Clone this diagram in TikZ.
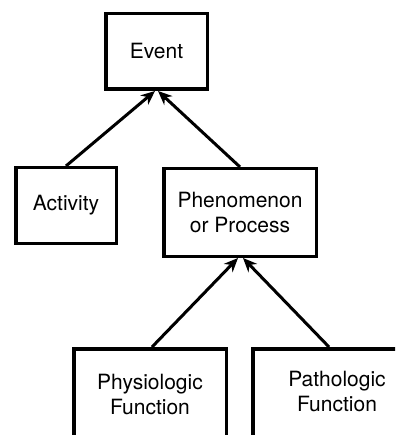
\documentclass[tikz,border=0pt]{standalone}
\usepackage{fontspec}
\setmainfont{TeX Gyre Heros}
\usetikzlibrary{arrows.meta}
\begin{document}
\begin{tikzpicture}[x=1pt,y=-1pt,
  box/.style={draw,line width=3.5pt,inner sep=0pt,align=center,
    font=\fontsize{21}{25}\selectfont},
  lbl/.style={inner sep=0pt,align=center,font=\fontsize{21}{25}\selectfont},
  isa/.style={line width=3pt,-{Stealth[length=14pt,width=12pt,inset=4.5pt]}}]
  \useasboundingbox (0,0) rectangle (395,435);
  \clip (0,0) rectangle (395,435);
  % upper level
  \node[box,minimum width=101.5pt,minimum height=75.5pt] (ev) at (156.5,51.5) {Event};
  \node[box,minimum width=100.5pt,minimum height=75.5pt] (act) at (66,205.5) {Activity};
  \node[box,minimum width=152.5pt,minimum height=87.5pt] (phen) at (240,212.5) {Phenomenon\\or Process};
  % lower level, boxes running past the bottom edge
  \node[box,minimum width=152.5pt,minimum height=110pt,anchor=north] (phys) at (150,347) {};
  \node[lbl] (physl) at (150,394) {Physiologic\\Function};
  \node[box,minimum width=170pt,minimum height=110pt,anchor=north] (path) at (338,347) {};
  \node[lbl] (pathl) at (337,391.5) {Pathologic\\Function};
  % connectors
  \draw[isa] (act.north) -- ([xshift=-1.5pt]ev.south);
  \draw[isa] (phen.north) -- ([xshift=1.5pt]ev.south);
  \draw[isa] ([xshift=2pt]phys.north) -- ([xshift=-2pt]phen.south);
  \draw[isa] ([xshift=-9pt]path.north) -- ([xshift=3pt]phen.south);
\end{tikzpicture}
\end{document}
